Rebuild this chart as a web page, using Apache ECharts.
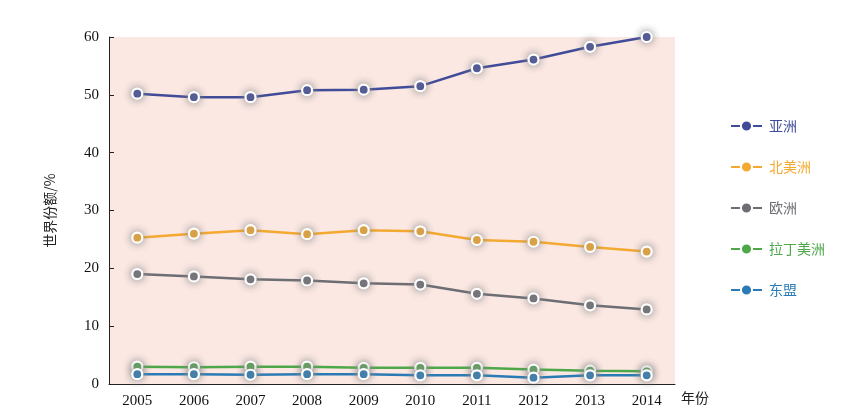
<!DOCTYPE html>
<html><head><meta charset="utf-8">
<script src="https://cdn.jsdelivr.net/npm/echarts@6/dist/echarts.min.js"></script>
<style>html,body{margin:0;padding:0;background:#fff}#c{width:851px;height:415px}</style>
</head><body><div id="c"></div>
<script>
const years = ['2005','2006','2007','2008','2009','2010','2011','2012','2013','2014'];
const asia = [50.2, 49.6, 49.6, 50.8, 50.9, 51.5, 54.6, 56.1, 58.3, 60.0];
const northAmerica = [25.3, 26.0, 26.6, 25.9, 26.6, 26.4, 24.9, 24.6, 23.7, 22.9];
const europe = [19.0, 18.6, 18.1, 17.9, 17.4, 17.2, 15.6, 14.8, 13.6, 12.9];
const latinAmerica = [3.0, 2.9, 3.0, 3.0, 2.8, 2.8, 2.8, 2.5, 2.3, 2.2];
const asean = [1.7, 1.7, 1.6, 1.7, 1.7, 1.5, 1.5, 1.1, 1.5, 1.5];
const names = ['亚洲','北美洲','欧洲','拉丁美洲','东盟'];
const colors = ['#414c98','#f4a931','#6d6d74','#4ea84a','#2a7bb5'];
const datasets = [asia, northAmerica, europe, latinAmerica, asean];

const chart = echarts.init(document.getElementById('c'));
chart.setOption({
  animation: false,
  color: colors,
  grid: {left:109, right:176, top:37, bottom:31, show:true, backgroundColor:'#fbe8e3', borderWidth:0},
  legend: {
    orient:'vertical', left:725, top:114, itemGap:27, itemWidth:31, itemHeight:14,
    textStyle:{fontFamily:'Noto Sans CJK SC', fontSize:14, padding:[0,0,0,2]},
    data: names.map((n,i)=>({name:n, textStyle:{color:colors[i]}}))
  },
  xAxis: {
    type:'category', data:years, boundaryGap:true,
    name:'年份', nameGap:6, nameTextStyle:{fontFamily:'Noto Sans CJK SC', fontSize:14, color:'#222', verticalAlign:'top', padding:[7,0,0,0]},
    axisLine:{lineStyle:{color:'#222'}},
    axisTick:{inside:true, length:5, lineStyle:{color:'#222'}},
    axisLabel:{fontFamily:'Liberation Serif', fontSize:15, color:'#111', margin:10}
  },
  yAxis: {
    type:'value', min:0, max:60, interval:10,
    name:'世界份额/%', nameLocation:'middle', nameGap:52, nameRotate:90,
    nameTextStyle:{fontFamily:'Noto Sans CJK SC', fontSize:14, color:'#222'},
    axisLine:{show:true, lineStyle:{color:'#222'}},
    axisTick:{show:true, inside:true, length:5, lineStyle:{color:'#222'}},
    axisLabel:{fontFamily:'Liberation Serif', fontSize:15, color:'#111', margin:10},
    splitLine:{show:false}
  },
  series: datasets.map((d,i)=>({
    name:names[i], type:'line', data:d,
    symbol:'circle', symbolSize:10, showSymbol:true,
    lineStyle:{width:2.5, color:colors[i]},
    itemStyle:{color:colors[i], borderColor:'#fff', borderWidth:2.2, shadowColor:'rgba(140,140,140,1)', shadowBlur:8}
  }))
});
</script></body></html>
